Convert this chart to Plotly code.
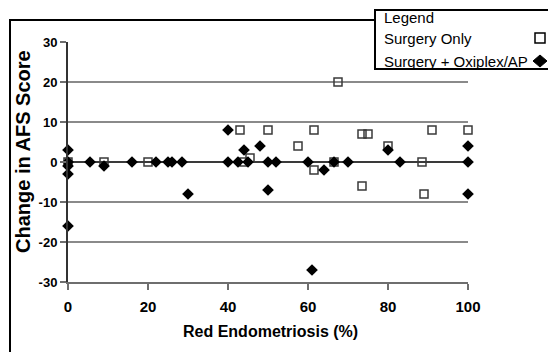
import plotly.graph_objects as go

# ---- data ----
surg_only_x = [0, 9, 20, 43, 44, 45.5, 50, 57.5, 61.5, 61.5, 66.5, 67.5, 73.5, 75, 73.5, 80, 88.5, 89, 91, 100]
surg_only_y = [0, 0, 0, 8, 0, 1, 8, 4, 8, -2, 0, 20, 7, 7, -6, 4, 0, -8, 8, 8]

oxiplex_x = [0, 0, 0, 0, 0, 5.5, 9, 16, 22, 25, 26, 28.5, 30, 40, 40, 42.5, 44, 45, 48, 50,
             50, 52, 60, 61, 64, 66.5, 70, 80, 83, 100, 100, 100]
oxiplex_y = [3, 0, -1, -3, -16, 0, -1, 0, 0, 0, 0, 0, -8, 8, 0, 0, 3, 0, 4, 0,
             -7, 0, 0, -27, -2, 0, 0, 3, 0, 4, 0, -8]

x_ticks = [0, 20, 40, 60, 80, 100]
y_ticks = [-30, -20, -10, 0, 10, 20, 30]
y_tick_text = [str(v) for v in y_ticks]

legend_title = "Legend"
series_names = ["Surgery Only", "Surgery + Oxiplex/AP"]
x_title = "Red Endometriosis (%)"
y_title = "Change in AFS Score"

FONT = "Arial, Liberation Sans, sans-serif"

# ---- layout geometry (page pixels; the page body has an 8px margin) ----
OFF = 8
W, H = 556 - OFF, 352 - OFF
L, R, T, B = 68, 468, 42, 282  # plot area in page pixels


def px(x):
    return (x - L) / (R - L)


def py(y):
    return (B - y) / (B - T)


fig = go.Figure()
fig.add_trace(go.Scatter(
    x=surg_only_x, y=surg_only_y, mode="markers", name=series_names[0],
    marker=dict(symbol="square-open", size=8, color="#3a3a3a", line=dict(width=1.5)),
    cliponaxis=False, showlegend=False))
fig.add_trace(go.Scatter(
    x=oxiplex_x, y=oxiplex_y, mode="markers", name=series_names[1],
    marker=dict(symbol="diamond", size=9, color="black"),
    cliponaxis=False, showlegend=False))

shapes = []
# outer chart border
shapes.append(dict(type="rect", xref="paper", yref="paper",
                   x0=px(10), x1=px(549), y0=py(370), y1=py(20),
                   line=dict(color="black", width=2), fillcolor="rgba(0,0,0,0)", layer="above"))
# legend box
shapes.append(dict(type="rect", xref="paper", yref="paper",
                   x0=px(375), x1=px(580), y0=py(69), y1=py(10),
                   line=dict(color="black", width=2), fillcolor="white", layer="above"))
# legend symbols
shapes.append(dict(type="rect", xref="paper", yref="paper",
                   x0=px(535), x1=px(545), y0=py(43), y1=py(33),
                   line=dict(color="black", width=1.5), fillcolor="white", layer="above"))
dx, dy = 7, 6
cx, cy = 540, 61
path = "M {} {} L {} {} L {} {} L {} {} Z".format(
    px(cx - dx), py(cy), px(cx), py(cy - dy), px(cx + dx), py(cy), px(cx), py(cy + dy))
shapes.append(dict(type="path", xref="paper", yref="paper", path=path,
                   line=dict(color="black", width=1), fillcolor="black", layer="above"))

annotations = []
for txt, yy in [(legend_title, 18), (series_names[0], 38), (series_names[1], 61)]:
    annotations.append(dict(text=txt, xref="paper", yref="paper", x=px(382), y=py(yy),
                            xanchor="left", yanchor="middle", showarrow=False,
                            font=dict(family=FONT, size=15, color="black")))
annotations.append(dict(text="<b>" + x_title + "</b>", xref="paper", yref="paper",
                        x=px(270), y=py(331), xanchor="center", yanchor="middle",
                        showarrow=False, font=dict(family=FONT, size=16, color="black")))
annotations.append(dict(text="<b>" + y_title + "</b>", xref="paper", yref="paper",
                        x=px(23), y=py(152), xanchor="center", yanchor="middle",
                        textangle=-90, showarrow=False,
                        font=dict(family=FONT, size=20, color="black")))

fig.update_layout(
    width=W, height=H, autosize=False,
    margin=dict(l=L - OFF, r=556 - R, t=T - OFF, b=352 - B, pad=0),
    paper_bgcolor="white", plot_bgcolor="white",
    shapes=shapes, annotations=annotations,
    font=dict(family=FONT, color="black"),
    xaxis=dict(range=[0, 100], tickvals=x_ticks, ticktext=[str(v) for v in x_ticks],
               showgrid=False, zeroline=False, showline=True, linecolor="#6e6e6e", linewidth=2,
               ticks="outside", ticklen=6, tickwidth=2, tickcolor="#6e6e6e",
               ticklabelstandoff=4,
               tickfont=dict(family=FONT, size=15, color="black", weight="bold")),
    yaxis=dict(range=[-30, 30], tickvals=y_ticks, ticktext=y_tick_text,
               showgrid=True, gridcolor="#8a8a8a", gridwidth=2,
               zeroline=True, zerolinecolor="#3a3a3a", zerolinewidth=2,
               showline=True, linecolor="#333333", linewidth=2,
               ticks="outside", ticklen=6, tickwidth=2, tickcolor="#6e6e6e",
               ticklabelstandoff=0,
               tickfont=dict(family=FONT, size=13, color="black", weight="bold")),
)

fig.write_html("out.html")
